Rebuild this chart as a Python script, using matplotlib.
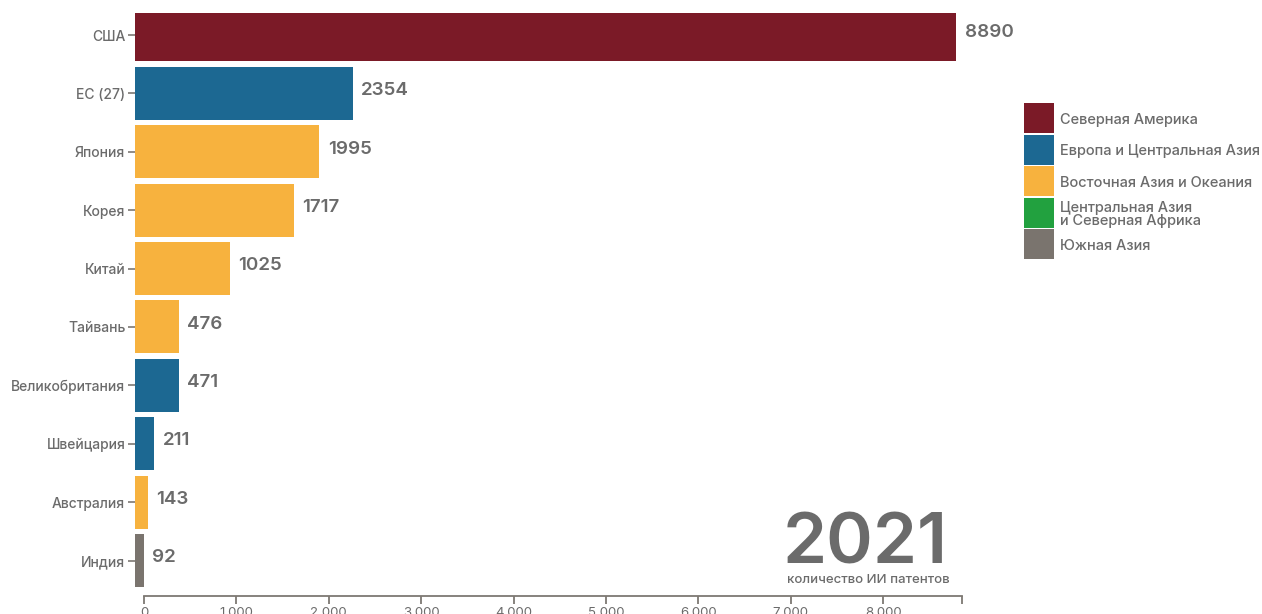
import matplotlib.pyplot as plt
from matplotlib.patches import Rectangle

plt.rcParams['font.family'] = ['Inter', 'DejaVu Sans']

# patents on AI by country, 2021
countries = ['США', 'ЕС (27)', 'Япония', 'Корея', 'Китай', 'Тайвань',
             'Великобритания', 'Швейцария', 'Австралия', 'Индия']
patents = [8890, 2354, 1995, 1717, 1025, 476, 471, 211, 143, 92]
country_region = [0, 1, 2, 2, 2, 2, 1, 1, 2, 4]

region_names = ['Северная Америка', 'Европа и Центральная Азия',
                'Восточная Азия и Океания',
                'Центральная Азия\nи Северная Африка', 'Южная Азия']
region_colors = ['#7b1a27', '#1c6892', '#f7b23e', '#22a13f', '#7a746e']
year = '2021'
subtitle = 'количество ИИ патентов'

text_grey = '#6b6b6b'
axis_grey = '#7d7873'
W, H = 1262, 614

# bars are slid a little left of the zero tick (frame of an animated race)
bar_shift = -97
x_max = 8853

fig = plt.figure(figsize=(W / 100, H / 100), dpi=100)
ax = fig.add_axes([135 / W, 18 / H, (962 - 135) / W, 583 / H])

pos = range(len(countries))
ax.barh(pos, patents, left=bar_shift, height=0.907,
        color=[region_colors[r] for r in country_region])
ax.set_xlim(bar_shift, x_max)
ax.set_ylim(9.608, -0.377)

for i, v in enumerate(patents):
    ax.annotate(str(v), xy=(bar_shift + v, i), xytext=(6, 2),
                textcoords='offset points', va='center', ha='left',
                fontsize=13.5, fontweight='semibold', color=text_grey)

# y axis: names only, short ticks
ax.set_yticks(list(pos))
ax.set_yticklabels(countries, fontsize=10, fontweight='medium', color=text_grey)
ax.tick_params(axis='y', length=5, width=1.2, color=axis_grey, pad=2)

# x axis at the bottom, with end cap
for s in ['top', 'right', 'left']:
    ax.spines[s].set_visible(False)
ax.spines['bottom'].set_bounds(0, x_max)
ax.spines['bottom'].set_color(axis_grey)
ax.spines['bottom'].set_linewidth(1.3)
ticks = list(range(0, 9000, 1000))
ax.set_xticks(ticks)
ax.set_xticklabels([f'{t:,}'.replace(',', '.') for t in ticks],
                   fontsize=9.5, color=text_grey)
ax.set_xticks([x_max], minor=True)
ax.tick_params(axis='x', which='both', length=6, width=1.3,
               color=axis_grey, pad=2)

# region legend
for k, (name, col) in enumerate(zip(region_names, region_colors)):
    top = 103 + k * 31.5
    fig.add_artist(Rectangle((1024 / W, 1 - (top + 30) / H), 30 / W, 30 / H,
                             transform=fig.transFigure, color=col, lw=0))
    fig.text(1060 / W, 1 - (top + 17) / H, name, fontsize=10.5,
             fontweight='medium', color=text_grey, va='center', ha='left',
             linespacing=0.95)

# year stamp
fig.text(948 / W, 1 - 564 / H, year, fontsize=51, fontweight='semibold',
         color=text_grey, ha='right', va='baseline')
fig.text(950 / W, 1 - 583 / H, subtitle, fontsize=9.5, fontweight='medium',
         color=text_grey, ha='right', va='baseline')

fig.savefig('out.png', dpi=100)
